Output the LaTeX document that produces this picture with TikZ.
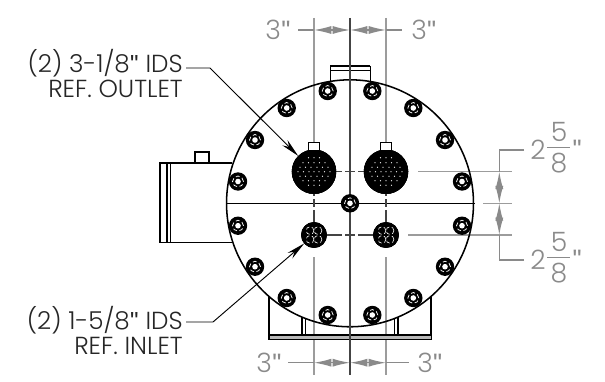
\documentclass[tikz,border=0pt]{standalone}
\usepackage{fontspec}
\setmainfont{Poppins}[UprightFont=* Light]
\newfontfamily\qf{Liberation Sans}
\usetikzlibrary{arrows.meta,calc}
\definecolor{dimgr}{HTML}{8A8A8A}
\definecolor{cl}{HTML}{444444}
\newcommand{\qqq}{{\qf\char"27\kern-0.02em\char"27}}
\tikzset{
 lab/.style={inner sep=0pt,text=black!85,font=\fontsize{18.5}{20}\selectfont},
 dimtxt/.style={inner sep=0pt,text=dimgr,font=\fontsize{20}{22}\selectfont},
 ext/.style={draw=dimgr!85,line width=0.9pt},
 dimln/.style={draw=dimgr,line width=0.9pt},
 dimar/.style={dimln,{Latex[length=13pt,width=6pt]}-{Latex[length=13pt,width=6pt]}},
 body/.style={draw=black,line width=0.85pt},
 bigport/.style={circle,fill=black,draw=black,minimum size=33pt,inner sep=0pt},
 smallport/.style={circle,fill=black,draw=black,minimum size=19pt,inner sep=0pt},
 leader/.style={draw=black,line width=0.7pt},
 bolt/.pic={
  \fill[black] (0,0) circle (6.9pt);
  \draw[white,line width=0.55pt,densely dashed] (0,0) circle (4.1pt);
  \fill[white] (0,0) circle (2.1pt);
 },
 bigdots/.pic={
  \foreach \yy/\xs in {-13.5/{-5.5,0,5.5},-9/{-11,-5.5,0,5.5,11},-4.5/{-14,-8.5,-3,3,8.5,14},0/{-16,-10.5,-5,0,5,10.5,16},4.5/{-14,-8.5,-3,3,8.5,14},9/{-11,-5.5,0,5.5,11},14/{-5.5,0,5.5}}{
   \foreach \xx in \xs {\fill[white] (\xx*0.75pt,\yy*0.75pt) circle (0.5pt);}
  }
 },
 clover/.pic={
  \foreach \xx/\yy in {-3/-3.3,3/-3.3,-3/3.3,3/3.3}{
   \draw[white,line width=0.45pt,densely dashed] (\xx pt,\yy pt) circle (2.9pt);
  }
 },
}
\begin{document}
\begin{tikzpicture}[x=0.75pt,y=-0.75pt]
\useasboundingbox[fill=white] (0,0) rectangle (605,381);
% coordinates
\coordinate (C) at (350,203.3);
\node[bigport] (outl) at (314,171.7) {};
\node[bigport] (outr) at (386,171.7) {};
\node[smallport] (inl) at (314,235) {};
\node[smallport] (inr) at (386,235) {};
% gray extension lines
\draw[ext] (314,18) -- (outl);
\draw[ext] (386,18) -- (outr);
\draw[ext] (314,257) -- (314,375);
\draw[ext] (386,257) -- (386,375);
\draw[ext] (418,171.7) -- (512,171.7);
\draw[ext] (483,203.3) -- (512,203.3);
\draw[ext] (408,235) -- (512,235);
% housing
\draw[body] (160,163) rectangle (167,242.7);
\draw[body] (170.5,163) -- (170.5,242.7);
\draw[body] (167,163) -- (232,163);
\draw[body] (167,242.7) -- (232,242.7);
\draw[body] (195,163) -- (195,152) -- (209,152) -- (209,163);
\draw[body] (269,296) -- (269,339) -- (431,339) -- (431,296);
\draw[body] (269,335) -- (431,335);
\draw[body] (302,317) -- (302,335) (305.5,319) -- (305.5,335);
\draw[body] (394.5,319) -- (394.5,335) (398,317) -- (398,335);
\fill[dimgr!60] (269.5,335.5) rectangle (430.5,338.5);
\draw[line width=1.6pt] (330,66) -- (370,66);
\draw[body,line width=0.7pt] (330,66) -- (330,81) (370,66) -- (370,81) (330,70) -- (370,70);
% main circle
\draw[black,line width=1.15pt] (C) circle (92.6pt);
% centre lines
\draw[black,line width=0.8pt] (227,203.3) -- (475,203.3);
\draw[draw=cl,line width=0.8pt] (350,18) -- (350,375);
% port centre dash-dot
\draw[draw=cl,line width=0.85pt] (outl) -- (inl);
\draw[draw=cl,line width=0.85pt] (outr) -- (inr);
\draw[draw=white,line width=1.2pt] (314,196) -- (314,199) (314,207) -- (314,210) (386,196) -- (386,199) (386,207) -- (386,210);
\draw[draw=cl,line width=0.85pt] (outl) -- (outr);
\draw[draw=cl,line width=0.85pt] (inl) -- (inr);
\draw[draw=white,line width=1.2pt] (342,171.7) -- (345,171.7) (355,171.7) -- (358,171.7) (342,235) -- (345,235) (355,235) -- (358,235);
% ports on top
\node[bigport] at (314,171.7) {};
\node[bigport] at (386,171.7) {};
\node[smallport] at (314,235) {};
\node[smallport] at (386,235) {};
\pic at (314,171.7) {bigdots};
\pic at (386,171.7) {bigdots};
\pic at (314,235) {clover};
\pic at (386,235) {clover};
\draw[body,fill=white] (308.5,150) -- (308.5,142.5) -- (319.5,142.5) -- (319.5,150);
\draw[body,fill=white] (380.5,150) -- (380.5,142.5) -- (391.5,142.5) -- (391.5,150);
% bolts
\foreach \p in {(327.7,91),(372.3,91),(286.7,108),(413.3,108),(255,140),(445,140),(238,181.5),(462,181.5),(238,225.7),(462,225.7),(255,266.7),(445,266.7),(286.7,298),(413.3,298),(327.7,315),(372.3,315),(350,203.3)}{
  \pic at \p {bolt};
}
% dimensions
\coordinate (ta) at (314,30); \coordinate (tb) at (350,30); \coordinate (tc) at (386,30);
\draw[dimln] (298,30) -- (ta) (tc) -- (402,30);
\draw[dimar] (ta) -- (tb);
\draw[dimar] (tb) -- (tc);
\coordinate (ba) at (314,362.7); \coordinate (bb) at (350,362.7); \coordinate (bc) at (386,362.7);
\draw[dimln] (288,362.7) -- (ba) (bc) -- (409,362.7);
\draw[dimar] (ba) -- (bb);
\draw[dimar] (bb) -- (bc);
\coordinate (ra) at (499.3,171.7); \coordinate (rb) at (499.3,203.3); \coordinate (rc) at (499.3,235);
\draw[dimln] (524,150) -- (499.3,150) -- (ra);
\draw[dimln] (524,260) -- (499.3,260) -- (rc);
\draw[dimar] (ra) -- (rb);
\draw[dimar] (rb) -- (rc);
\node[dimtxt,anchor=east] (d1) at (291,30) {3\qqq};
\node[dimtxt,anchor=west] (d2) at (411,30) {3\qqq};
\node[dimtxt,anchor=east] (d3) at (282,363) {3\qqq};
\node[dimtxt,anchor=west] (d4) at (417,363) {3\qqq};
\foreach \n/\yy in {f1/147.5,f2/257.5}{
 \node[dimtxt] (\n w) at (538,\yy+2) {2};
 \node[dimtxt] (\n a) at (559,\yy-15.5) {5};
 \node[dimtxt] (\n b) at (559,\yy+16) {8};
 \draw[dimln] (547,\yy) -- (570,\yy);
 \node[dimtxt,anchor=north west] (\n q) at (572,\yy-8) {\qqq};
}
% labels
\node[lab,anchor=east] (l1) at (183,63.5) {(2) 3-1/8\qqq{} IDS};
\node[lab,anchor=east] (l2) at (183,89) {REF. OUTLET};
\node[lab,anchor=east] (l3) at (183,320.5) {(2) 1-5/8\qqq{} IDS};
\node[lab,anchor=east] (l4) at (183,346) {REF. INLET};
\coordinate (e1) at (210,68);
\coordinate (s1) at (186,68);
\coordinate (e2) at (213,322);
\coordinate (s2) at (186,322);
\draw[leader,-{Stealth[length=14pt,width=5.5pt]}] (s1) -- (e1) -- (outl);
\draw[leader,-{Stealth[length=14pt,width=5.5pt]}] (s2) -- (e2) -- (inl);
\end{tikzpicture}
\end{document}
